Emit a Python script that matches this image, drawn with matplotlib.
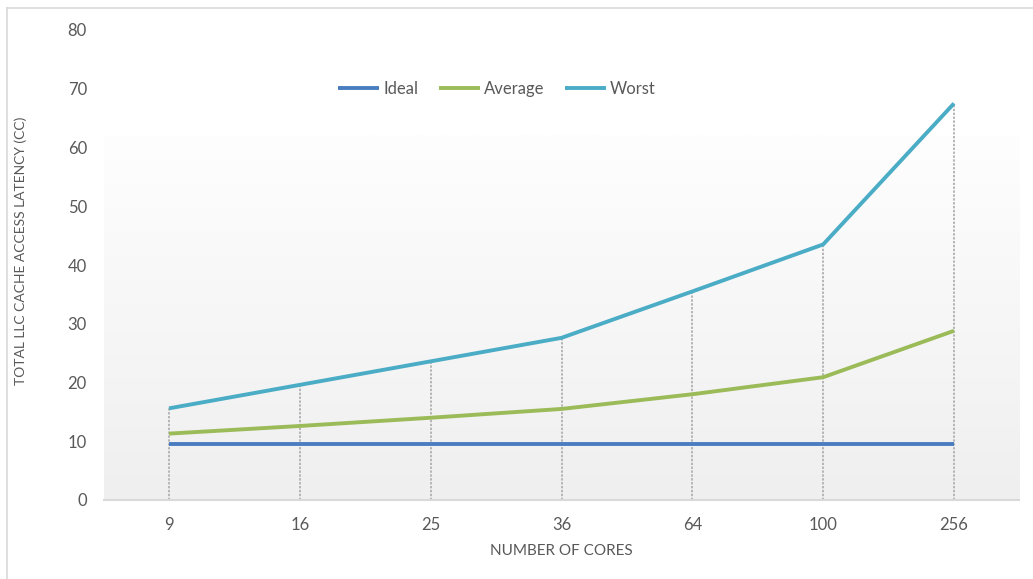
import numpy as np
import matplotlib
matplotlib.use("Agg")
import matplotlib.pyplot as plt
from matplotlib.colors import LinearSegmentedColormap

# core counts on the category axis
cores = ["9", "16", "25", "36", "64", "100", "256"]

# total LLC access latency (clock cycles)
ideal = [9.6, 9.6, 9.6, 9.6, 9.6, 9.6, 9.6]
average = [11.3, 12.6, 14.0, 15.5, 18.0, 20.9, 28.8]
worst = [15.6, 19.6, 23.6, 27.6, 35.5, 43.5, 67.5]

yticks = [0, 10, 20, 30, 40, 50, 60, 70, 80]

plt.rcParams['font.family'] = ['Lato', 'DejaVu Sans']
text_col = '#595959'

fig = plt.figure(figsize=(10.33, 5.79), dpi=100)
W, H = 1033, 579
ax = fig.add_axes([103.6 / W, 1 - 500 / H, (1019.4 - 103.6) / W, 470 / H])

x = np.arange(len(cores))
ax.set_xlim(-0.5, len(cores) - 0.5)
ax.set_ylim(0, 80)

# soft vertical gradient behind the series
grad_cmap = LinearSegmentedColormap.from_list('bg', ['#efefef', '#fefefe'])
ax.imshow(np.linspace(0, 1, 256).reshape(-1, 1), cmap=grad_cmap, aspect='auto',
          origin='lower', extent=(-0.5, len(cores) - 0.5, 0, 62), zorder=0)

# drop lines from the top series down to the axis
ax.vlines(x, 0, worst, colors='#b5b5b5', linewidth=1.4,
          linestyles=(0, (1.2, 0.8)), zorder=1)

ax.plot(x, ideal, color='#4a7dc0', lw=2.8, label='Ideal', zorder=3,
        solid_capstyle='butt')
ax.plot(x, average, color='#9bbb59', lw=2.8, label='Average', zorder=3,
        solid_capstyle='butt')
ax.plot(x, worst, color='#4bacc6', lw=2.8, label='Worst', zorder=3,
        solid_capstyle='butt')

for s in ['top', 'right', 'left']:
    ax.spines[s].set_visible(False)
ax.spines['bottom'].set_color('#d9d9d9')
ax.spines['bottom'].set_linewidth(1.5)
ax.spines['bottom'].set_zorder(2)

ax.set_xticks(x)
ax.set_xticklabels(cores)
ax.set_yticks(yticks)
ax.tick_params(axis='both', length=0, labelsize=12, colors=text_col)
ax.tick_params(axis='x', pad=12)
ax.tick_params(axis='y', pad=12)

ax.set_xlabel('NUMBER OF CORES', fontsize=11, color=text_col)
ax.xaxis.set_label_coords(0.5, -0.108)
ax.xaxis.label.set_va('center')
ax.set_ylabel('TOTAL LLC CACHE ACCESS LATENCY (CC)', fontsize=10,
              color=text_col)
ax.yaxis.set_label_coords(-0.091, 0.53)
ax.yaxis.label.set_va('center')

leg = ax.legend(loc='center', bbox_to_anchor=(497 / W, 1 - 89 / H),
                bbox_transform=fig.transFigure, ncol=3, frameon=False,
                fontsize=12, handlelength=2.45, handletextpad=0.25,
                columnspacing=1.25, labelcolor=text_col)

# chart frame (left and top edges)
fig.add_artist(plt.Line2D([7 / W, 7 / W], [0, 1 - 8 / H],
                          transform=fig.transFigure, color='#d9d9d9', lw=1.2))
fig.add_artist(plt.Line2D([7 / W, 1], [1 - 8 / H, 1 - 8 / H],
                          transform=fig.transFigure, color='#d9d9d9', lw=1.2))

fig.savefig('out.png', dpi=100)
